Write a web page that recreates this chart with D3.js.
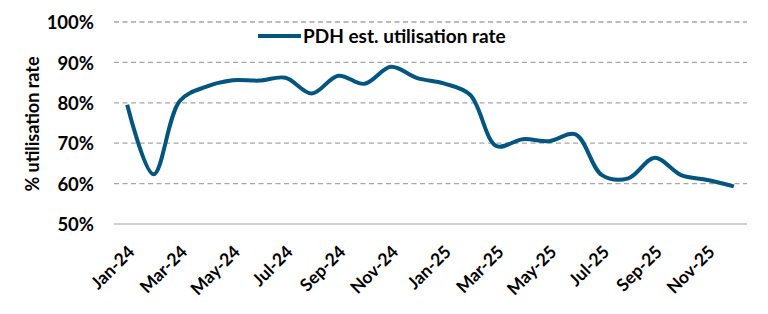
<!DOCTYPE html>
<html>
<head>
<meta charset="utf-8">
<script src="https://cdn.jsdelivr.net/npm/d3@7"></script>
<style>
  html, body { margin: 0; padding: 0; background: #fff; }
  svg { display: block; font-family: Lato, "Liberation Sans", sans-serif; font-weight: bold; }
</style>
</head>
<body>
<svg id="chart" width="768" height="314"></svg>
<script>
const months = ["Jan-24","Feb-24","Mar-24","Apr-24","May-24","Jun-24","Jul-24","Aug-24","Sep-24","Oct-24","Nov-24","Dec-24",
                "Jan-25","Feb-25","Mar-25","Apr-25","May-25","Jun-25","Jul-25","Aug-25","Sep-25","Oct-25","Nov-25","Dec-25"];
const utilisation = [79.5, 62.3, 80.5, 84.0, 85.6, 85.5, 86.2, 82.3, 86.7, 84.7, 88.9, 86.1,
                     84.8, 82.0, 69.3, 71.0, 70.5, 72.2, 62.1, 61.3, 66.4, 62.1, 60.9, 59.3];
const yTicks = [50, 60, 70, 80, 90, 100];
const xTickLabels = months.filter((m, i) => i % 2 === 0);
const seriesName = "PDH est. utilisation rate";
const yTitle = "% utilisation rate";

(function () {
const svg = d3.select("#chart");
const mLeft = 114, mRight = 747, mTop = 22, mBottom = 224;
const lineColor = "#02557f";
const ff = "Lato, 'Liberation Sans', sans-serif";

const x = d3.scalePoint().domain(months).range([mLeft, mRight]).padding(0.5);
const y = d3.scaleLinear().domain([50, 100]).range([mBottom, mTop]);

// gridlines
svg.append("g").selectAll("line")
  .data(yTicks.filter(t => t > 50))
  .join("line")
  .attr("x1", mLeft).attr("x2", mRight)
  .attr("y1", d => y(d)).attr("y2", d => y(d))
  .attr("stroke", "#a6a6a6").attr("stroke-width", 1.3)
  .attr("stroke-dasharray", "5,3.5");

// bottom axis line
svg.append("line")
  .attr("x1", mLeft).attr("x2", mRight)
  .attr("y1", y(50)).attr("y2", y(50))
  .attr("stroke", "#bfbfbf").attr("stroke-width", 1.3);

// y axis labels
const yAxis = d3.axisLeft(y).tickValues(yTicks).tickFormat(d => d + "%").tickSize(0).tickPadding(0);
const yg = svg.append("g").attr("transform", `translate(94,0)`).call(yAxis);
yg.select(".domain").remove();
yg.selectAll("text").attr("font-size", 18.5).attr("font-family", ff)
  .attr("font-weight", "bold").attr("fill", "#000").attr("dy", "0.36em");

// x axis labels
const xAxis = d3.axisBottom(x).tickValues(xTickLabels).tickSize(0).tickPadding(0);
const xg = svg.append("g").attr("transform", `translate(0,${mBottom})`).call(xAxis);
xg.select(".domain").remove();
xg.selectAll("text")
  .attr("font-size", 17.5).attr("font-family", ff)
  .attr("font-weight", "bold").attr("fill", "#000")
  .attr("text-anchor", "end")
  .attr("dy", null).attr("y", null)
  .attr("transform", "translate(8,29) rotate(-45)");

// y title
svg.append("text")
  .attr("transform", "translate(39,124) rotate(-90)")
  .attr("text-anchor", "middle")
  .attr("font-size", 18)
  .attr("fill", "#000")
  .text(yTitle);

// line
const line = d3.line().x((d, i) => x(months[i])).y(d => y(d)).curve(d3.curveCatmullRom.alpha(0.5));
svg.append("path")
  .datum(utilisation)
  .attr("d", line)
  .attr("fill", "none")
  .attr("stroke", lineColor)
  .attr("stroke-width", 4)
  .attr("stroke-linejoin", "round")
  .attr("stroke-linecap", "butt");

// legend
const lg = svg.append("g").attr("transform", "translate(258,36)");
lg.append("line").attr("x1", 0).attr("x2", 43).attr("y1", 0).attr("y2", 0)
  .attr("stroke", lineColor).attr("stroke-width", 4);
lg.append("text").attr("x", 45).attr("y", 0).attr("dy", "0.36em")
  .attr("font-size", 19).attr("fill", "#000").text(seriesName);
})();
</script>
</body>
</html>
